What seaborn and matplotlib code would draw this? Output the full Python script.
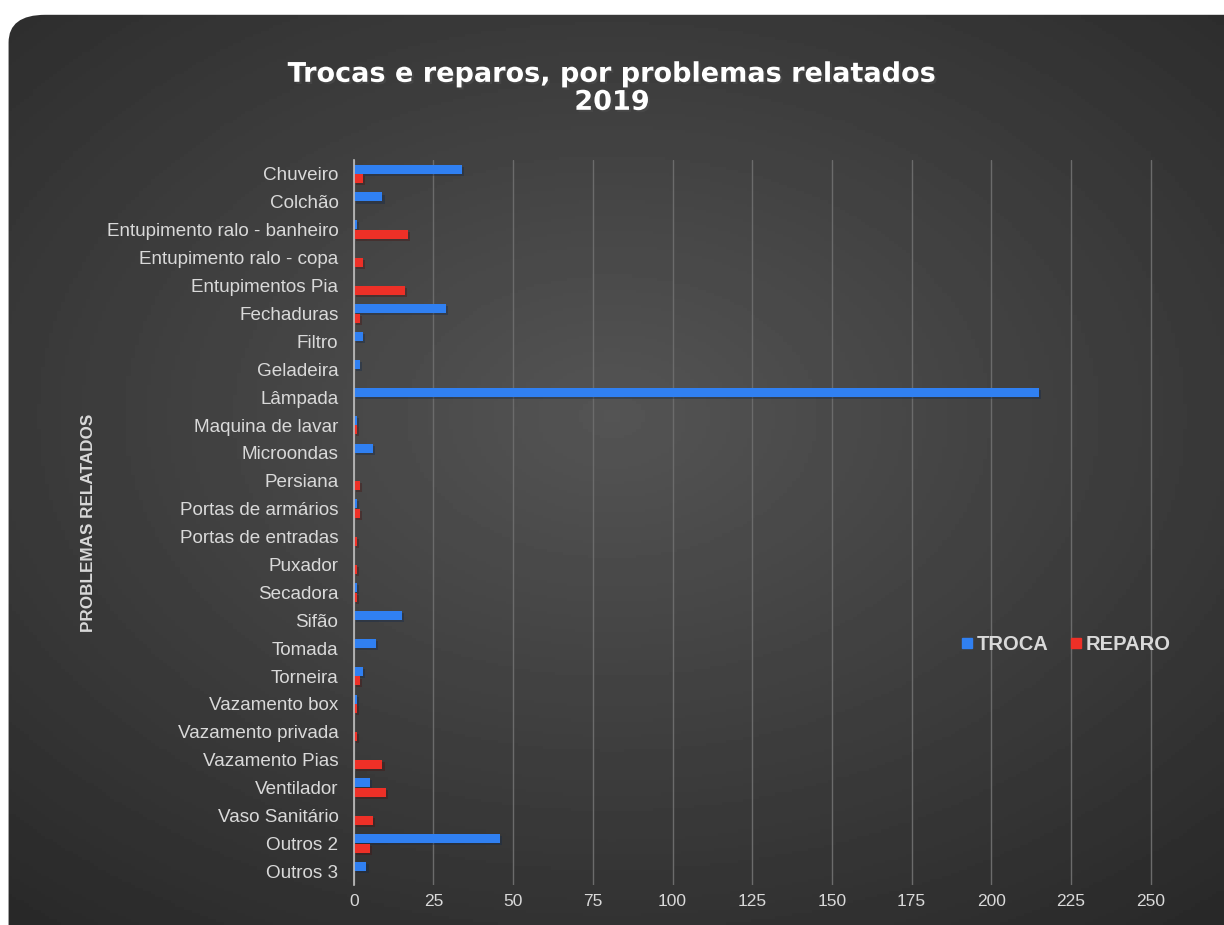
import numpy as np
import pandas as pd
import seaborn as sns
import matplotlib as mpl
from matplotlib import pyplot as plt
from matplotlib import patheffects as pe
from matplotlib.patches import FancyBboxPatch
from matplotlib.lines import Line2D

categorias = [
    "Chuveiro", "Colchão", "Entupimento ralo - banheiro", "Entupimento ralo - copa",
    "Entupimentos Pia", "Fechaduras", "Filtro", "Geladeira", "Lâmpada",
    "Maquina de lavar", "Microondas", "Persiana", "Portas de armários",
    "Portas de entradas", "Puxador", "Secadora", "Sifão", "Tomada", "Torneira",
    "Vazamento box", "Vazamento privada", "Vazamento Pias", "Ventilador",
    "Vaso Sanitário", "Outros 2", "Outros 3",
]
troca = [34, 9, 1, 0, 0, 29, 3, 2, 215, 1, 6, 0, 1, 0, 0, 1, 15, 7, 3, 1, 0, 0, 5, 0, 46, 4]
reparo = [3, 0, 17, 3, 16, 2, 0, 0, 0, 1, 0, 2, 2, 1, 1, 1, 0, 0, 2, 1, 1, 9, 10, 6, 5, 0]

cores = {"TROCA": "#3080f2", "REPARO": "#ee3027"}

df = pd.DataFrame({
    "problema": categorias * 2,
    "tipo": ["TROCA"] * len(categorias) + ["REPARO"] * len(categorias),
    "valor": troca + reparo,
})

sns.set_style("dark")
plt.rcParams["font.family"] = ["Liberation Sans", "DejaVu Sans"]

fig = plt.figure(figsize=(12.24, 9.25), dpi=100, facecolor="white")

# fundo escuro com cantos arredondados e gradiente radial
bg = fig.add_axes([0, 0, 1, 1], zorder=0)
bg.set_axis_off()
yy, xx = np.mgrid[0:1:300j, 0:1:300j]
r = np.sqrt(((xx - 0.5) * 1.0) ** 2 + ((yy - 0.55) * 1.1) ** 2)
grad = np.clip(0.33 - 0.22 * r, 0.1, 0.35)
im = bg.imshow(grad, cmap="gray", vmin=0, vmax=1, extent=[0, 1, 0, 1],
               aspect="auto", origin="lower")
box = FancyBboxPatch((0.007, -0.05), 1.2, 1.034, boxstyle="round,pad=0,rounding_size=0.03",
                     transform=bg.transAxes, facecolor="none", edgecolor="none")
bg.add_patch(box)
im.set_clip_path(box)
bg.set_xlim(0, 1)
bg.set_ylim(0, 1)

ax = fig.add_axes([0.289, 0.043, 0.659, 0.784], zorder=1)
ax.patch.set_alpha(0)
sns.barplot(df, x="valor", y="problema", hue="tipo", orient="h",
            palette=cores, width=0.7, gap=0.08, saturation=1, legend=False,
            edgecolor="none", linewidth=0, ax=ax)
for bar in ax.patches:
    bar.set_path_effects([pe.withSimplePatchShadow(offset=(1.5, -1.5), alpha=0.35)])

ax.set_xlim(0, 253)
ax.set_xticks(range(0, 251, 25))
ax.grid(axis="x", color="#6b6b6b", linewidth=1)
ax.grid(axis="y", visible=False)
for s in ["top", "right", "bottom"]:
    ax.spines[s].set_visible(False)
ax.spines["left"].set_color("#bfbfbf")
ax.spines["left"].set_linewidth(1.2)
ax.tick_params(axis="y", colors="#d9d9d9", labelsize=13.6, length=0, pad=11)
ax.tick_params(axis="x", colors="#d9d9d9", labelsize=12.5, length=0, pad=6)
ax.set_xlabel("")
ax.set_ylabel("PROBLEMAS RELATADOS", color="#d9d9d9", fontsize=12.3,
              fontweight="bold")
ax.yaxis.set_label_coords(-0.319, 0.5)

fig.text(0.5, 0.904, "Trocas e reparos, por problemas relatados\n2019",
         ha="center", va="center", color="white", fontsize=19.5, fontweight="bold",
         family="DejaVu Sans", linespacing=1.1,
         path_effects=[pe.withSimplePatchShadow(offset=(1.5, -1.5), alpha=0.6)])

handles = [Line2D([], [], marker="s", linestyle="", color=c, markersize=7) for c in cores.values()]
fig.legend(handles, list(cores.keys()), loc="center", bbox_to_anchor=(0.87, 0.303),
           ncol=2, frameon=False, handletextpad=0.05, handlelength=0.8, columnspacing=1.0,
           prop={"size": 14.5, "weight": "bold"}, labelcolor="#d9d9d9")

fig.savefig("out.png", dpi=100, facecolor="white")
